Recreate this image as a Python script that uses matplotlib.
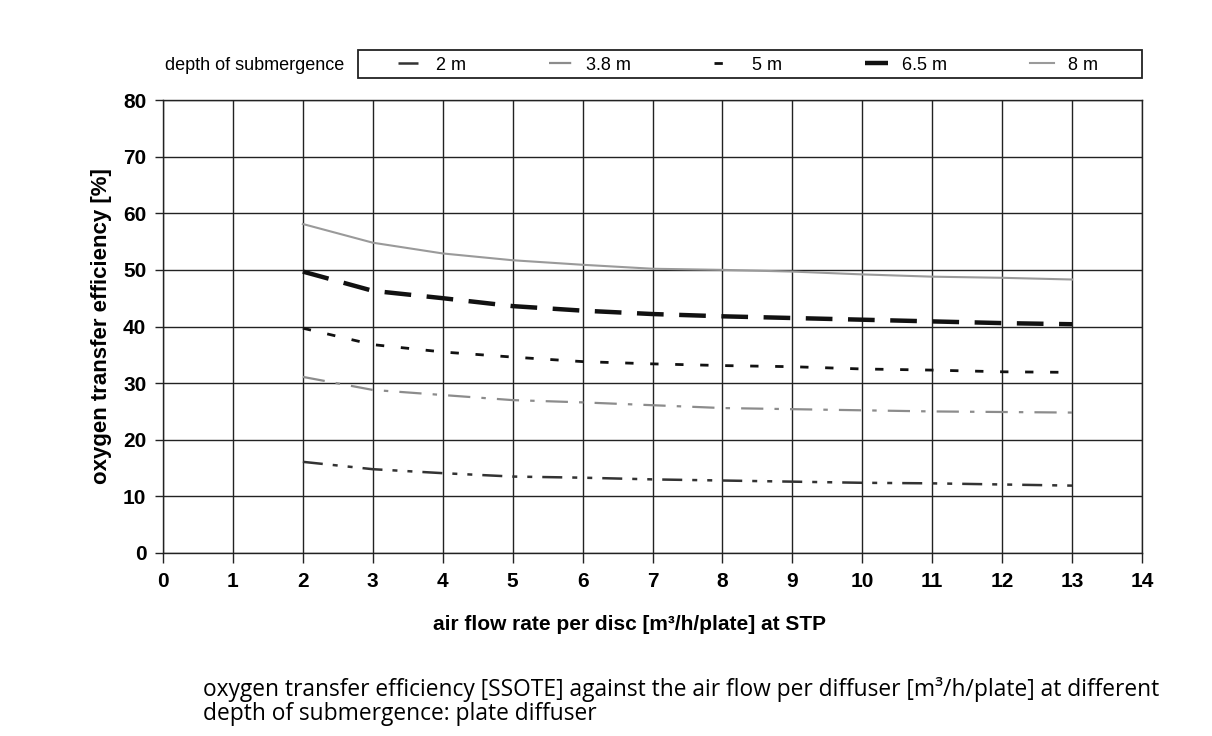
import numpy as np
import matplotlib.pyplot as plt
from matplotlib.patches import Rectangle

# air flow per plate [m3/h/plate] at STP
flow = [2, 3, 4, 5, 6, 7, 8, 9, 10, 11, 12, 13]

# oxygen transfer efficiency [%] per depth of submergence
ote_2m = [16.1, 14.8, 14.1, 13.5, 13.3, 13.0, 12.8, 12.6, 12.4, 12.3, 12.1, 11.9]
ote_3_8m = [31.1, 28.8, 27.9, 27.0, 26.6, 26.1, 25.6, 25.4, 25.2, 25.0, 24.9, 24.8]
ote_5m = [39.7, 36.8, 35.5, 34.6, 33.8, 33.4, 33.1, 32.9, 32.5, 32.3, 32.0, 31.9]
ote_6_5m = [49.7, 46.3, 45.0, 43.6, 42.8, 42.2, 41.8, 41.5, 41.2, 40.9, 40.6, 40.4]
ote_8m = [58.1, 54.8, 52.9, 51.7, 50.9, 50.2, 50.0, 49.7, 49.2, 48.8, 48.6, 48.3]

labels = ["2 m", "3.8 m", "5 m", "6.5 m", "8 m"]

W, H = 1212, 736
fig = plt.figure(figsize=(W / 100, H / 100), dpi=100)
ax = fig.add_axes([163 / W, 1 - 553 / H, 979 / W, 453 / H])

l1, = ax.plot(flow, ote_2m, color="#333333", lw=1.8, dashes=(8, 4, 2, 4, 2, 4))
l2, = ax.plot(flow, ote_3_8m, color="#8c8c8c", lw=1.6, dashes=(10, 5, 2, 5))
l3, = ax.plot(flow, ote_5m, color="#111111", lw=2.0, dashes=(3, 6))
l4, = ax.plot(flow, ote_6_5m, color="#111111", lw=3.2, dashes=(6, 3.5))
l5, = ax.plot(flow, ote_8m, color="#9a9a9a", lw=1.5)

ax.set_xlim(0, 14)
ax.set_ylim(0, 80)
ax.set_xticks(np.arange(0, 15, 1))
ax.set_yticks(np.arange(0, 90, 10))
ax.grid(True, color="#222222", lw=1.0)
ax.set_axisbelow(True)
for s in ax.spines.values():
    s.set_color("#222222")
    s.set_linewidth(1.0)
ax.tick_params(axis="x", length=7, width=1.0, color="#222222", pad=7)
ax.tick_params(axis="y", length=6, width=1.0, color="#222222", pad=6)
for t in ax.get_xticklabels() + ax.get_yticklabels():
    t.set_fontfamily("Liberation Sans")
    t.set_fontweight("bold")
    t.set_fontsize(15)

ax.set_xlabel("air flow rate per disc [m³/h/plate] at STP", fontfamily="Liberation Sans",
              fontweight="bold", fontsize=15)
ax.xaxis.set_label_coords(0.477, -0.136)
ax.set_ylabel("oxygen transfer efficiency [%]", fontfamily="Liberation Sans",
              fontweight="bold", fontsize=16, labelpad=8)

# legend box above the plot
fig.patches.append(Rectangle((358 / W, 1 - 78 / H), 784 / W, 28 / H, transform=fig.transFigure,
                             fill=False, edgecolor="#222222", lw=1.3))
leg = fig.legend([l1, l2, l3, l4, l5], labels, ncol=5, mode="expand", loc="center",
                 bbox_to_anchor=(398 / W, 1 - 77 / H, 700 / W, 24 / H),
                 frameon=False, handlelength=1.3, handletextpad=0.8, columnspacing=2.0,
                 borderpad=0, borderaxespad=0,
                 prop={"family": "Liberation Sans", "size": 13})
fig.text(165 / W, 1 - 65 / H, "depth of submergence", fontfamily="Liberation Sans",
         fontsize=13, va="center", ha="left")

fig.text(203 / W, 1 - 701 / H,
         "oxygen transfer efficiency [SSOTE] against the air flow per diffuser [m³/h/plate] at different\n"
         "depth of submergence: plate diffuser",
         fontfamily="Open Sans", fontsize=16.4, va="center", ha="left", linespacing=1.0)

fig.savefig("out.png", dpi=100)
